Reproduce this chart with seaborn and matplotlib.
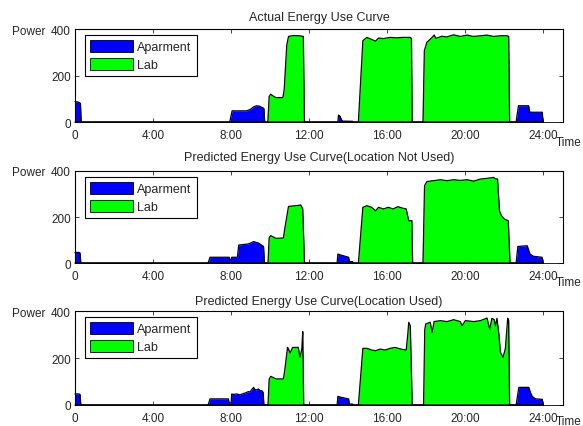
import matplotlib
matplotlib.use('Agg')
import matplotlib.pyplot as plt
from matplotlib.patches import Patch
import seaborn as sns

# hours of the day and power
actual_apt_hours = [0, 0.15, 0.28, 0.32, 7.93, 8.05, 8.8, 9.0, 9.15, 9.3, 9.45, 9.6, 9.68, 9.72,
                    13.47, 13.5, 13.58, 13.65, 13.7, 14.22, 14.26,
                    22.6, 22.72, 23.24, 23.3, 23.94, 23.98, 24.0]
actual_apt_power = [88, 86, 80, 0, 0, 48, 48, 55, 65, 70, 68, 62, 58, 0,
                    0, 30, 25, 10, 4, 3, 0,
                    0, 70, 70, 42, 42, 0, 0]
actual_lab_hours = [0, 9.88, 9.95, 10.03, 10.15, 10.3, 10.65, 10.72, 10.85, 10.94, 11.2, 11.5, 11.7, 11.76,
                    14.52, 14.75, 14.96, 15.2, 15.4, 15.55, 15.8, 16.15, 16.5, 16.8, 17.15, 17.24, 17.28,
                    17.83, 17.9, 18.03, 18.3, 18.4, 18.5, 18.8, 19.05, 19.4, 19.74, 20.1, 20.4, 20.8,
                    21.1, 21.45, 21.8, 22.14, 22.22, 22.27, 24.0]
actual_lab_power = [0, 0, 110, 120, 112, 105, 105, 140, 330, 368, 372, 371, 368, 0,
                    0, 350, 364, 355, 348, 361, 359, 364, 362, 364, 364, 360, 0,
                    0, 307, 343, 364, 374, 360, 369, 366, 375, 368, 374, 368, 371,
                    374, 368, 371, 371, 368, 0, 0]

noloc_apt_hours = [0, 0.2, 0.26, 0.3, 6.82, 6.92, 7.9, 7.93, 8.0, 8.03, 8.32, 8.39, 8.89, 9.15, 9.4, 9.66, 9.71,
                   13.43, 13.47, 13.6, 14.02, 14.06, 14.22, 14.26,
                   22.6, 22.69, 23.17, 23.31, 23.5, 23.93, 23.97, 24.0]
noloc_apt_power = [46, 46, 44, 0, 0, 25, 25, 15, 15, 25, 25, 78, 83, 93, 87, 72, 0,
                   0, 39, 35, 25, 6, 6, 0,
                   0, 72, 75, 39, 29, 25, 0, 0]
noloc_lab_hours = [0, 9.89, 9.95, 10.03, 10.3, 10.68, 10.75, 10.94, 11.28, 11.57, 11.67, 11.76,
                   14.52, 14.75, 14.96, 15.2, 15.4, 15.55, 15.8, 16.05, 16.3, 16.55, 16.8, 16.97, 17.1, 17.26, 17.3,
                   17.83, 17.91, 18.03, 18.38, 18.72, 19.06, 19.4, 19.74, 20.09, 20.43, 20.77, 21.11, 21.45,
                   21.55, 21.65, 21.75, 21.85, 22.0, 22.2, 22.29, 24.0]
noloc_lab_power = [0, 0, 110, 119, 107, 109, 150, 246, 249, 252, 235, 0,
                   0, 242, 249, 242, 227, 242, 235, 242, 235, 245, 238, 235, 184, 184, 0,
                   0, 336, 354, 358, 362, 358, 362, 359, 362, 356, 365, 368, 372,
                   366, 365, 227, 206, 191, 184, 0, 0]

loc_apt_hours = [0, 0.2, 0.26, 0.3, 6.82, 6.92, 7.86, 7.9, 8.0, 8.03, 8.1, 8.29, 8.45, 8.6, 8.72, 8.89, 8.97,
                 9.05, 9.15, 9.25, 9.4, 9.5, 9.57, 9.64, 9.68,
                 13.43, 13.47, 13.62, 14.02, 14.06, 14.22, 14.26,
                 22.6, 22.74, 23.25, 23.33, 23.42, 23.59, 23.94, 23.98, 24.0]
loc_apt_power = [47, 47, 45, 0, 0, 26, 26, 9, 9, 47, 45, 47, 43, 48, 51, 57, 55,
                 65, 75, 63, 68, 60, 61, 54, 0,
                 0, 37, 33, 26, 4, 4, 0,
                 0, 75, 75, 54, 37, 26, 24, 0, 0]
loc_lab_hours = [0, 9.89, 9.95, 10.03, 10.3, 10.68, 10.75, 10.89, 10.94, 11.02, 11.15, 11.44, 11.53, 11.62,
                 11.67, 11.72,
                 14.52, 14.75, 14.96, 15.2, 15.4, 15.65, 15.9, 16.15, 16.4, 16.7, 16.97, 17.05, 17.1, 17.18, 17.28,
                 17.86, 17.92, 17.97, 18.2, 18.3, 18.4, 18.72, 19.06, 19.4, 19.74, 19.83, 20.0, 20.43, 20.77,
                 21.11, 21.25, 21.36, 21.48, 21.55, 21.62, 21.72, 21.8, 21.93, 22.05, 22.17, 22.22, 22.27, 24.0]
loc_lab_power = [0, 0, 110, 122, 111, 111, 150, 245, 238, 221, 245, 245, 203, 238,
                 312, 0,
                 0, 241, 241, 234, 231, 238, 234, 241, 245, 238, 234, 300, 352, 337, 0,
                 0, 320, 345, 352, 309, 355, 359, 355, 363, 355, 337, 359, 355, 359,
                 370, 323, 369, 363, 337, 369, 300, 224, 203, 240, 369, 360, 0, 0]

titles = ['Actual Energy Use Curve',
          'Predicted Energy Use Curve(Location Not Used)',
          'Predicted Energy Use Curve(Location Used)']
tick_hours = [0, 4, 8, 12, 16, 20, 24]
tick_labels = ['0', '4:00', '8:00', '12:00', '16:00', '20:00', '24:00']
series_names = ['Aparment', 'Lab']
apt_color = '#0000ff'
lab_color = '#00ff00'

sns.set_style('ticks')
plt.rcParams['font.family'] = ['Liberation Sans', 'DejaVu Sans']

fig = plt.figure(figsize=(5.83, 4.27), dpi=100)
fig.set_facecolor('white')

panels = [
    (actual_apt_hours, actual_apt_power, actual_lab_hours, actual_lab_power,
     [0.1286, 0.7119, 0.837, 0.2178], 6.5, -0.20),
    (noloc_apt_hours, noloc_apt_power, noloc_lab_hours, noloc_lab_power,
     [0.1286, 0.3817, 0.837, 0.2155], 8, -0.19),
    (loc_apt_hours, loc_apt_power, loc_lab_hours, loc_lab_power,
     [0.1286, 0.0492, 0.837, 0.2201], 5, -0.15),
]

for title, (ah, ap, lh, lp, rect, tpad, time_y) in zip(titles, panels):
    ax = fig.add_axes(rect)
    # stacked-area look: fills first, black outlines on top
    ax.fill_between(ah, ap, color=apt_color, lw=0)
    ax.fill_between(lh, lp, color=lab_color, lw=0)
    sns.lineplot(x=ah, y=ap, ax=ax, color='black', lw=0.9, estimator=None, sort=False, clip_on=False)
    sns.lineplot(x=lh, y=lp, ax=ax, color='black', lw=0.9, estimator=None, sort=False, clip_on=False)

    ax.set_xlim(0, 25)
    ax.set_ylim(0, 400)
    ax.set_xticks(tick_hours)
    ax.set_xticklabels(tick_labels)
    ax.set_yticks([0, 200, 400])
    ax.set_xlabel('')
    ax.set_ylabel('')
    ax.tick_params(direction='in', top=True, right=True, length=3, width=0.6, labelsize=8.5)
    ax.tick_params(axis='x', pad=5)
    ax.tick_params(axis='y', pad=3)
    for sp in ax.spines.values():
        sp.set_linewidth(0.8)
        sp.set_color('black')
    ax.spines['bottom'].set_linewidth(0.6)

    ax.set_title(title, fontsize=9, pad=tpad)
    ax.text(-0.061, 1.0, 'Power', transform=ax.transAxes, ha='right', va='center_baseline', fontsize=8.5)
    ax.text(0.985, time_y, 'Time', transform=ax.transAxes, ha='left', va='center_baseline', fontsize=8.5)

    handles = [Patch(facecolor=apt_color, edgecolor='black', lw=0.6, label=series_names[0]),
               Patch(facecolor=lab_color, edgecolor='black', lw=0.6, label=series_names[1])]
    leg = ax.legend(handles=handles, loc='upper left', bbox_to_anchor=(0.02, 0.94), fontsize=9,
                    handlelength=3.5, handleheight=1.2, labelspacing=0.35, borderpad=0.4,
                    handletextpad=0.3, borderaxespad=0, fancybox=False, framealpha=1,
                    edgecolor='black')
    leg.get_frame().set_linewidth(0.8)

fig.savefig('out.png', dpi=100, facecolor='white')
